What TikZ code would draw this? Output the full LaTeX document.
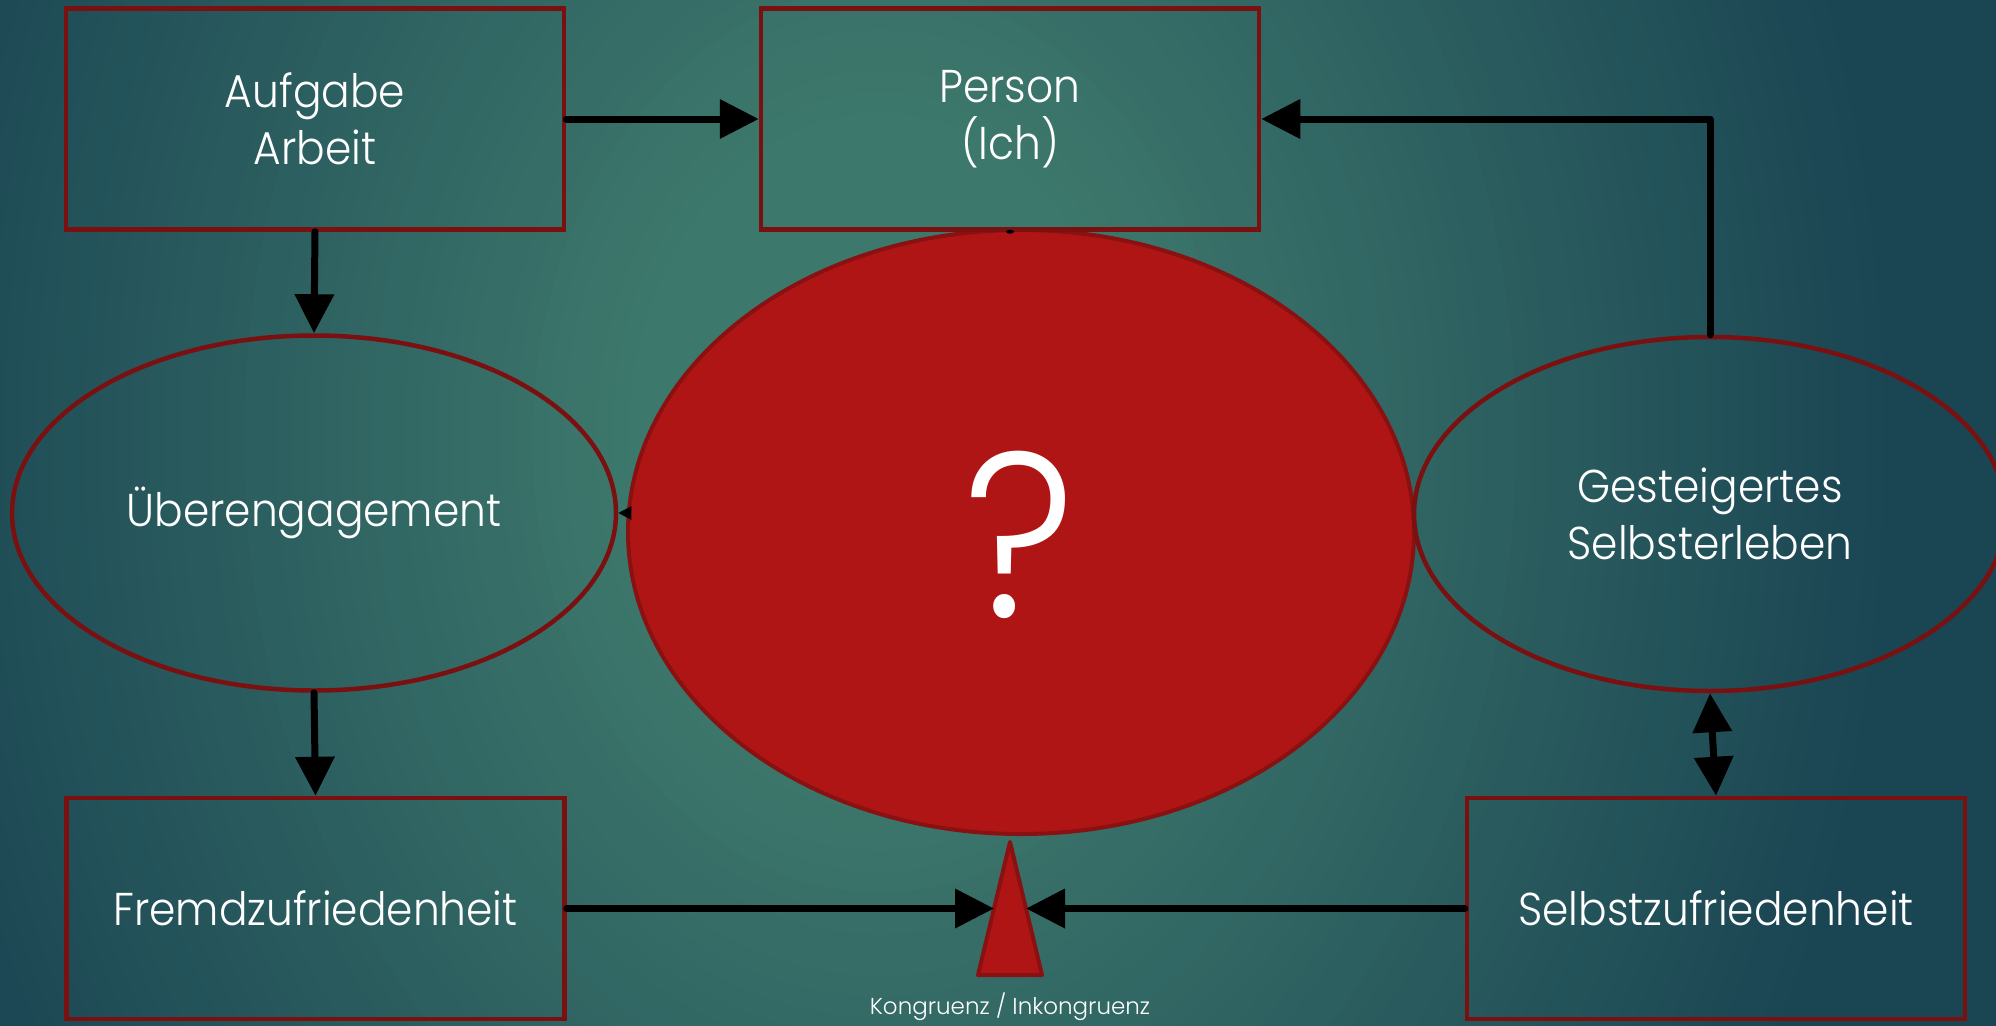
\documentclass[tikz,border=0pt]{standalone}
\usepackage{fontspec}
\IfFontExistsTF{Poppins Light}{%
  \newfontfamily\gothic[FakeStretch=0.92]{Poppins Light}%
  \newfontfamily\gothicsmall{Poppins Light}}{%
  \newfontfamily\gothic[FakeStretch=0.92]{Poppins}%
  \newfontfamily\gothicsmall{Poppins}}
\usetikzlibrary{arrows.meta,shapes.geometric,calc}

\definecolor{bgin}{HTML}{3D786C}
\definecolor{bgout}{HTML}{1A4553}
\definecolor{frame}{HTML}{7A1010}
\definecolor{ballfill}{HTML}{B01515}
\definecolor{ballline}{HTML}{8A1111}

\tikzset{
  box/.style={draw=frame, line width=4.5pt, minimum width=498pt, minimum height=221pt,
    inner sep=0pt, text=white, align=center, font=\gothic\fontsize{46}{57}\selectfont},
  oval/.style={ellipse, draw=frame, line width=4.5pt, inner sep=0pt, text=white,
    align=center, font=\gothic\fontsize{46}{57}\selectfont},
  conn/.style={line width=7pt, line cap=round, line join=round, -{Triangle[length=39pt,width=38pt]}},
  twoway/.style={line width=7pt, {Triangle[length=39pt,width=38pt]}-{Triangle[length=39pt,width=38pt]}},
}

\begin{document}
\begin{tikzpicture}[x=1pt,y=-1pt]
\useasboundingbox (0,0) rectangle (1996,1025);
\clip (0,0) rectangle (1996,1025);
% background: dark edges, lighter teal glow around the upper middle
\fill[bgout] (-20,-20) rectangle (2016,1045);
\foreach \i in {0,...,48} {
  \pgfmathsetmacro{\rad}{1020-\i*16}
  \pgfmathsetmacro{\mix}{\i*100/48}
  \fill[bgin!\mix!bgout] (880,440) ellipse ({\rad pt} and {1.3*\rad pt});
}

% central red ellipse with question mark
\node[ellipse, fill=ballfill, draw=ballline, line width=4pt, minimum width=786pt,
      minimum height=604pt, inner sep=0pt] (ball) at (1021,532) {};
\node[text=white, font=\gothic\fontsize{235}{235}\selectfont] (q) at (1020,535) {?};

% boxes
\node[box] (aufg) at (315,119) {Aufgabe\\Arbeit};
\node[box] (person) at (1010,119) {Person\\(Ich)};
\node[box] (fremd) at (315.5,908.5) {Fremdzufriedenheit};
\node[box] (selbst) at (1716,908.5) {Selbstzufriedenheit};

% ellipses
\node[oval, minimum width=604pt, minimum height=355pt] (ueber) at (314,513) {Überengagement};
\node[oval, minimum width=592pt, minimum height=354pt] (gest) at (1710,514) {Gesteigertes\\Selbsterleben};

% congruence triangle
\coordinate (tA) at (1010,842);
\coordinate (tB) at (978,975);
\coordinate (tC) at (1042,975);
\filldraw[fill=ballfill, draw=ballline, line width=4pt, line join=round] (tA) -- (tB) -- (tC) -- cycle;
\coordinate (tL) at ($(tA)!0.5!(tB)$);
\coordinate (tR) at ($(tA)!0.5!(tC)$);
\node[text=white, font=\gothicsmall\fontsize{23}{28}\selectfont] (kong) at (1010,1007) {Kongruenz / Inkongruenz};

% connectors
\draw[conn] (aufg.east) -- (person.west);
\draw[conn] (aufg.south) -- (ueber.north);
\draw[conn] (ueber.south) -- (fremd.north);
\draw[conn] (gest.north) |- (person.east);
\draw[twoway] (gest.south) -- (selbst.north);
\draw[conn] (fremd.east) -- (tL);
\draw[conn] (selbst.west) -- (tR);
\draw[line width=2pt, -{Triangle[length=13pt,width=13pt]}] (ball.west |- ueber.east) ++(3,0) -- (ueber.east);
\fill (person.south) ellipse (4pt and 2pt);
\end{tikzpicture}
\end{document}
